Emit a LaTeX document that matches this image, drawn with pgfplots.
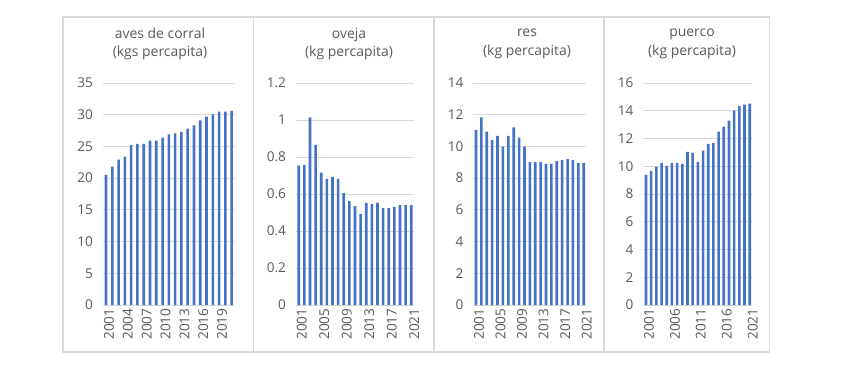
\documentclass[border=0pt]{standalone}
\usepackage{pgfplots}
\pgfplotsset{compat=1.18}
\usepackage{fontspec}
\setmainfont{Open Sans}
\definecolor{barblue}{HTML}{4472C4}
\definecolor{gridgray}{HTML}{D9D9D9}
\definecolor{txtgray}{HTML}{595959}
\definecolor{framegray}{HTML}{D9D9D9}
\pgfplotsset{
  panel/.style={
    scale only axis,
    anchor=south west,
    height=222bp,
    ymin=0,
    xmin=2000.5, xmax=2021.5,
    ybar, bar width=2.6bp,
    axis line style={draw=none},
    major tick length=0pt,
    ymajorgrids,
    grid style={gridgray, line width=0.9bp},
    tick label style={font=\fontsize{13.6}{15}\selectfont, text=txtgray},
    /pgf/number format/assume math mode=true,
    yticklabel style={xshift=-6.5bp},
    xticklabel style={rotate=90, anchor=east, yshift=-3bp},
    clip=false,
  },
}
\begin{document}
\begin{tikzpicture}[x=1bp,y=1bp]
\path[use as bounding box] (0,0) rectangle (855,369);
% frames
\draw[framegray, line width=1.2bp] (63,17) rectangle (769.5,352);
\draw[framegray, line width=1.2bp] (253.3,17) -- (253.3,352);
\draw[framegray, line width=1.6bp] (434,17) -- (434,352);
\draw[framegray, line width=1.2bp] (604,17) -- (604,352);
\tikzset{ttl/.style={font=\fontsize{14}{18.5}\selectfont, text=txtgray, align=center}}
\node[ttl] at (160,325) {aves de corral\\(kgs percapita)};
\node[ttl] at (349,325) {oveja\\(kg percapita)};
\node[ttl] at (527,325) {res\\(kg percapita)};
\node[ttl] at (692,325) {puerco\\(kg percapita)};

\begin{axis}[panel, at={(102.9bp,64bp)}, width=131.9bp, ymax=35,
  ytick={0,5,...,35},
  xtick={2001,2004,2007,2010,2013,2016,2019},
  xticklabels={2001,2004,2007,2010,2013,2016,2019}]
\addplot[fill=barblue, draw=none] coordinates {
(2001,20.5) (2002,21.8) (2003,22.9) (2004,23.4) (2005,25.2) (2006,25.4) (2007,25.4)
(2008,25.9) (2009,25.9) (2010,26.4) (2011,26.9) (2012,27.05) (2013,27.3) (2014,27.8)
(2015,28.3) (2016,29.1) (2017,29.7) (2018,30.05) (2019,30.5) (2020,30.5) (2021,30.6)};
\end{axis}

\begin{axis}[panel, at={(295.9bp,64bp)}, width=118.2bp, ymax=1.2,
  ytick={0,0.2,0.4,0.6,0.8,1,1.2},
  yticklabels={0,0.2,0.4,0.6,0.8,1,1.2},
  xtick={2001,2005,2009,2013,2017,2021},
  xticklabels={2001,2005,2009,2013,2017,2021}]
\addplot[fill=barblue, draw=none] coordinates {
(2001,0.753) (2002,0.758) (2003,1.014) (2004,0.866) (2005,0.715) (2006,0.682) (2007,0.693)
(2008,0.682) (2009,0.605) (2010,0.561) (2011,0.534) (2012,0.491) (2013,0.552) (2014,0.545)
(2015,0.552) (2016,0.523) (2017,0.523) (2018,0.531) (2019,0.540) (2020,0.540) (2021,0.540)};
\end{axis}

\begin{axis}[panel, at={(473.3bp,64bp)}, width=113.1bp, ymax=14,
  ytick={0,2,...,14},
  xtick={2001,2005,2009,2013,2017,2021},
  xticklabels={2001,2005,2009,2013,2017,2021}]
\addplot[fill=barblue, draw=none] coordinates {
(2001,11.05) (2002,11.83) (2003,10.93) (2004,10.42) (2005,10.67) (2006,9.98) (2007,10.67)
(2008,11.2) (2009,10.55) (2010,9.98) (2011,9.01) (2012,9.01) (2013,9.01) (2014,8.9)
(2015,8.9) (2016,9.07) (2017,9.14) (2018,9.2) (2019,9.14) (2020,8.97) (2021,8.97)};
\end{axis}

\begin{axis}[panel, at={(643.4bp,64bp)}, width=108.9bp, ymax=16,
  ytick={0,2,...,16},
  xtick={2001,2006,2011,2016,2021},
  xticklabels={2001,2006,2011,2016,2021}]
\addplot[fill=barblue, draw=none] coordinates {
(2001,9.38) (2002,9.67) (2003,9.96) (2004,10.25) (2005,10.03) (2006,10.25) (2007,10.25)
(2008,10.18) (2009,11.04) (2010,10.97) (2011,10.32) (2012,11.12) (2013,11.62) (2014,11.69)
(2015,12.49) (2016,12.85) (2017,13.28) (2018,14.03) (2019,14.36) (2020,14.44) (2021,14.51)};
\end{axis}
\end{tikzpicture}
\end{document}
